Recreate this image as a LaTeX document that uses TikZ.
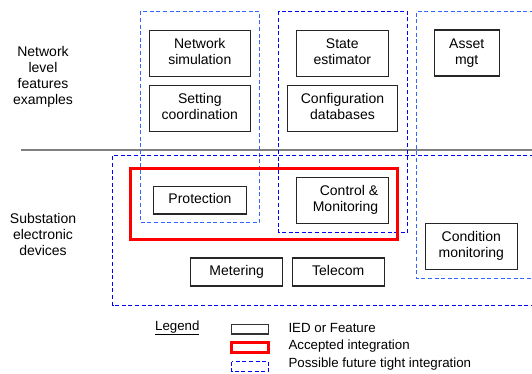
\documentclass[tikz,border=0pt]{standalone}
\usepackage{fontspec}
\setmainfont{Liberation Sans}
\definecolor{lightdash}{RGB}{51,102,255}
\definecolor{darkdash}{RGB}{0,0,255}
\definecolor{acceptred}{RGB}{255,0,0}
\begin{document}
\begin{tikzpicture}[x=1pt,y=-1pt,
  feature/.style={draw=black!85, line width=1.1pt, inner sep=0pt, align=center,
    text depth=3pt, font=\fontsize{14}{16}\selectfont},
  label/.style={inner sep=0pt, align=center, font=\fontsize{14}{16}\selectfont},
  legtext/.style={inner sep=0pt, anchor=west, font=\fontsize{13.3}{15}\selectfont},
  lightgroup/.style={draw=lightdash, line width=1pt, dash pattern=on 4pt off 2.6pt},
  darkgroup/.style={draw=darkdash, line width=1pt, dash pattern=on 4pt off 2.6pt},
  accepted/.style={draw=acceptred, line width=3pt},
  divider/.style={draw=black!50, line width=2pt}]
\useasboundingbox (0,0) rectangle (532,374);

% level divider
\draw[divider] (20.7,150) -- (532,150);

% integration groupings
\draw[lightgroup] (140.5,11.5) rectangle (259.5,222.5);
\draw[darkgroup] (278.5,11.5) rectangle (407.5,232.5);
\draw[lightgroup] (534,11.5) -- (416.5,11.5) -- (416.5,278.5) -- (534,278.5);
\draw[darkgroup] (534,155.5) -- (112.5,155.5) -- (112.5,305.5) -- (534,305.5);
\draw[accepted] (130.7,168.7) rectangle (397,239.3);

% row labels
\node[label] (netlbl) at (43,76.5) {Network\\level\\features\\examples};
\node[label] (sublbl) at (43,234) {Substation\\electronic\\devices};

% network level features
\node[feature, minimum width=101pt, minimum height=46pt] (netsim) at (199.8,53.2) {Network\\simulation};
\node[feature, minimum width=101pt, minimum height=46pt] (setcoord) at (199.8,108.3) {Setting\\coordination};
\node[feature, minimum width=92pt, minimum height=46pt] (stateest) at (342.3,53.2) {State\\estimator};
\node[feature, minimum width=110.4pt, minimum height=46pt] (confdb) at (342.5,108.3) {Configuration\\databases};
\node[feature, minimum width=64.7pt, minimum height=46pt] (asset) at (466.7,53) {Asset\\mgt};

% substation devices
\node[feature, minimum width=92.6pt, minimum height=27.3pt] (prot) at (200,200.3) {Protection};
\node[feature, align=right, minimum width=92.4pt, minimum height=46pt] (ctrl) at (342.5,200.3) {Control \&\\\hspace*{6pt}Monitoring};
\node[feature, minimum width=92pt, minimum height=46pt] (cond) at (471.3,246.3) {Condition\\monitoring};
\node[feature, minimum width=92pt, minimum height=28pt] (meter) at (236.7,272) {Metering};
\node[feature, minimum width=92.3pt, minimum height=28pt] (telecom) at (338.2,272) {Telecom};

% legend
\node[inner sep=0pt, font=\fontsize{13.3}{15}\selectfont] (legend) at (177.3,328) {\underline{Legend}};
\draw[draw=black!80, line width=1.1pt] (231.7,324.3) rectangle (268.3,334);
\draw[accepted] (231.7,342.3) rectangle (268.3,352.7);
\draw[darkgroup] (231.5,361.5) rectangle (268.5,371.5);
\node[legtext] (leg1) at (288.3,328) {IED or Feature};
\node[legtext] (leg2) at (288.3,346.5) {Accepted integration};
\node[legtext] (leg3) at (288.3,364.5) {Possible future tight integration};
\end{tikzpicture}
\end{document}
